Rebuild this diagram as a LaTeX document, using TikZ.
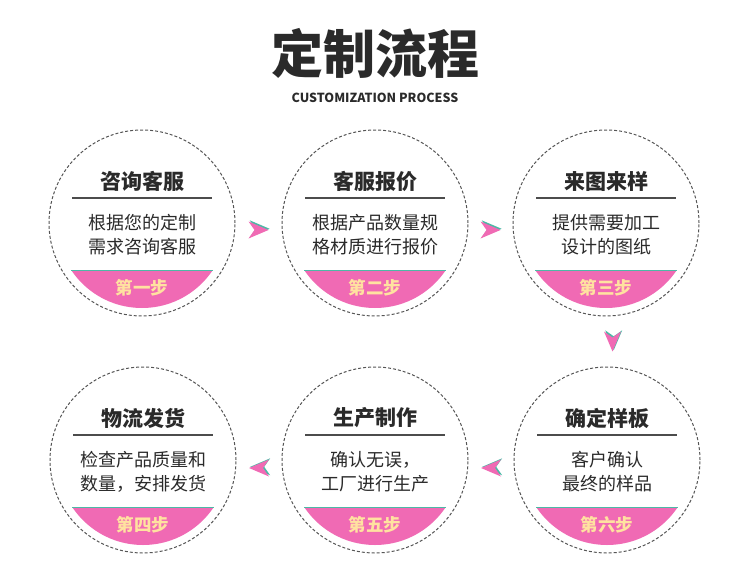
\documentclass[tikz,border=0pt]{standalone}
\usepackage{fontspec}
\usepackage{tikz}
\usetikzlibrary{calc}
\setmainfont{Noto Sans CJK SC}
\definecolor{TextColor}{HTML}{2A2A2A}
\definecolor{PinkStep}{HTML}{F06AB4}
\definecolor{TealStep}{HTML}{4DB8A6}
\definecolor{StepFont}{HTML}{FFE2A0}
\definecolor{RingColor}{HTML}{555555}
\tikzstyle{ring} = [circle, draw=RingColor, line width=1pt, dash pattern=on 3pt off 2pt, minimum size=186pt, inner sep=0pt]
\tikzstyle{headtext} = [text=TextColor, font=\fontsize{21}{25}\selectfont\bfseries]
\tikzstyle{bodytext} = [text=TextColor, align=center, font=\fontsize{18}{24}\selectfont]
\tikzstyle{steptext} = [text=StepFont, font=\fontsize{17.5}{20}\selectfont\bfseries]
\tikzset{x=1pt, y=-1pt,
  pics/steparrow/.style={code={
    \fill[TealStep, shift={(1.2,-1.2)}, rotate=#1] (10,0) -- (-10,-8.5) -- (-4,0) -- (-10,8.5) -- cycle;
    \fill[PinkStep, rotate=#1] (10,0) -- (-10,-8.5) -- (-4,0) -- (-10,8.5) -- cycle;
  }}}
% one step of the process: name, centre, heading, body, step label
\newcommand\stepblock[5]{
  \node[ring] (#1) at (#2) {};
  \begin{scope}
    \clip (#2) circle (85);
    \fill[PinkStep] ($(#1)+(-90,47)$) rectangle ($(#1)+(90,90)$);
  \end{scope}
  \draw[TealStep, line width=1pt] ($(#1)+(-70.8,47)$) -- ($(#1)+(70.8,47)$);
  \node[headtext] (#1h) at ($(#1)+(0,-42)$) {#3};
  \draw[RingColor!90!black, line width=1.8pt] ($(#1)+(-70,-25)$) -- ($(#1)+(70,-25)$);
  \node[bodytext] (#1b) at ($(#1)+(0,12)$) {#4};
  \node[steptext] (#1s) at ($(#1)+(0,65)$) {#5};
}

\begin{document}
\begin{tikzpicture}
\useasboundingbox (0,0) rectangle (750,568);
\node[text=TextColor, font=\fontsize{52}{60}\selectfont\bfseries] (title) at (375,53) {定制流程};
\node[text=TextColor, font=\fontsize{12.5}{15}\selectfont\bfseries] (subtitle) at (375,98) {CUSTOMIZATION PROCESS};
\stepblock{c1}{142,223}{咨询客服}{根据您的定制\\需求咨询客服}{第一步}
\stepblock{c2}{375,223}{客服报价}{根据产品数量规\\格材质进行报价}{第二步}
\stepblock{c3}{606,223}{来图来样}{提供需要加工\\设计的图纸}{第三步}
\stepblock{c4}{143,460}{物流发货}{检查产品质量和\\数量，安排发货}{第四步}
\stepblock{c5}{375,460}{生产制作}{确认无误，\\工厂进行生产}{第五步}
\stepblock{c6}{607,460}{确定样板}{客户确认\\最终的样品}{第六步}
\pic at ($(c1)!0.5!(c2)+(0,7)$) {steparrow=0};
\pic at ($(c2)!0.5!(c3)+(0,7)$) {steparrow=0};
\pic at ($(c3)!0.5!(c6)+(6,0)$) {steparrow=-90};
\pic at ($(c6)!0.5!(c5)+(0,8)$) {steparrow=180};
\pic at ($(c5)!0.5!(c4)+(0,8)$) {steparrow=180};
\end{tikzpicture}
\end{document}
